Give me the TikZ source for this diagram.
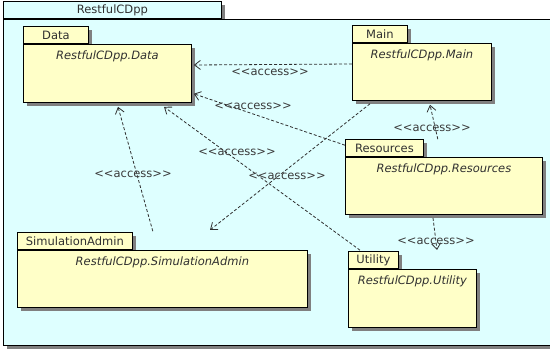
\documentclass[tikz,border=0pt]{standalone}
\usepackage{fontspec}
\newfontfamily\diagfont{DejaVu Sans}
\usetikzlibrary{arrows.meta,calc,shadows}
\definecolor{pkgcyan}{HTML}{DEFFFF}
\definecolor{pkgyellow}{HTML}{FFFFC8}
\definecolor{shadowgray}{HTML}{808080}
\definecolor{inkgray}{HTML}{303030}
\definecolor{labelgray}{HTML}{3A3A3A}

\begin{document}
\begin{tikzpicture}[x=1pt,y=-1pt,
  font=\diagfont\fontsize{11.5}{13}\selectfont,
  boxshadow/.style={drop shadow={shadow xshift=3.5pt,shadow yshift=-3.5pt,fill=shadowgray,opacity=1}},
  pkgtab/.style={draw=black, line width=0.8pt, fill=pkgyellow, boxshadow,
    anchor=south west, inner sep=0pt, minimum height=17pt, text=inkgray},
  pkgbody/.style={draw=black, line width=0.8pt, fill=pkgyellow, boxshadow,
    anchor=north west, inner sep=0pt},
  pkgname/.style={anchor=north, yshift=-3pt, text=inkgray,
    font=\diagfont\fontsize{11.5}{13}\selectfont\itshape},
  access/.style={draw=inkgray, line width=0.8pt, dash pattern=on 3pt off 2pt,
    -{Straight Barb[length=6pt,width=9pt]}},
  acclabel/.style={text=labelgray, inner sep=1pt}
]
\useasboundingbox (0,0) rectangle (550,352);
\clip (0,0) rectangle (550,352);

% enclosing package RestfulCDpp
\node[pkgtab, fill=pkgcyan, minimum width=218pt] (pkgTab) at (3,19) {RestfulCDpp};
\node[pkgbody, fill=pkgcyan, minimum width=560pt, minimum height=326pt] (pkg) at (3,19) {};

% Data
\node[pkgtab, minimum width=65pt] (dataTab) at (23,44) {Data};
\node[pkgbody, minimum width=168pt, minimum height=58pt,
  label={[pkgname]north:RestfulCDpp.Data}] (data) at (23,44) {};

% Main
\node[pkgtab, minimum width=55pt] (mainTab) at (352,43) {Main};
\node[pkgbody, minimum width=139pt, minimum height=57pt,
  label={[pkgname]north:RestfulCDpp.Main}] (main) at (352,43) {};

% Resources
\node[pkgtab, minimum width=78pt] (resTab) at (345,157) {Resources};
\node[pkgbody, minimum width=197pt, minimum height=57pt,
  label={[pkgname]north:RestfulCDpp.Resources}] (res) at (345,157) {};

% Utility
\node[pkgtab, minimum width=50pt] (utilTab) at (348,269) {Utility};
\node[pkgbody, minimum width=128pt, minimum height=58pt,
  label={[pkgname]north:RestfulCDpp.Utility}] (util) at (348,269) {};

% SimulationAdmin
\node[pkgtab, minimum width=115pt] (simTab) at (17,250) {SimulationAdmin};
\node[pkgbody, minimum width=290pt, minimum height=57pt,
  label={[pkgname]north:RestfulCDpp.SimulationAdmin}] (sim) at (17,250) {};

% free ends of two dependencies
\coordinate (mainEnd) at (210,230);
\coordinate (utilEnd) at (437,250);

% <<access>> dependencies
\draw[access] ($(main.north west)+(0,21)$) -- ($(data.north east)+(2,21)$);
\draw[access] ($(resTab.north west)+(0,6)$) -- ($(data.south east)+(2,-9)$);
\draw[access] ($(utilTab.north west)+(12,-1)$) -- ($(data.south west)+(141,4)$);
\draw[access] ($(simTab.north east)+(20,-1)$) -- ($(data.south west)+(95,4)$);
\draw[access] ($(main.south west)+(18,3)$) -- (mainEnd);
\draw[access] ($(resTab.north east)+(14,0)$) -- ($(main.south west)+(78,4)$);
\draw[access] ($(res.south west)+(88,3)$) -- (utilEnd);

% dependency labels
\node[acclabel] (l1) at (270,72) {<<access>>};
\node[acclabel] (l2) at (253,106) {<<access>>};
\node[acclabel] (l3) at (237,152) {<<access>>};
\node[acclabel] (l4) at (133,174) {<<access>>};
\node[acclabel] (l5) at (287,176) {<<access>>};
\node[acclabel] (l6) at (432,128) {<<access>>};
\node[acclabel] (l7) at (436,241) {<<access>>};
\end{tikzpicture}
\end{document}
